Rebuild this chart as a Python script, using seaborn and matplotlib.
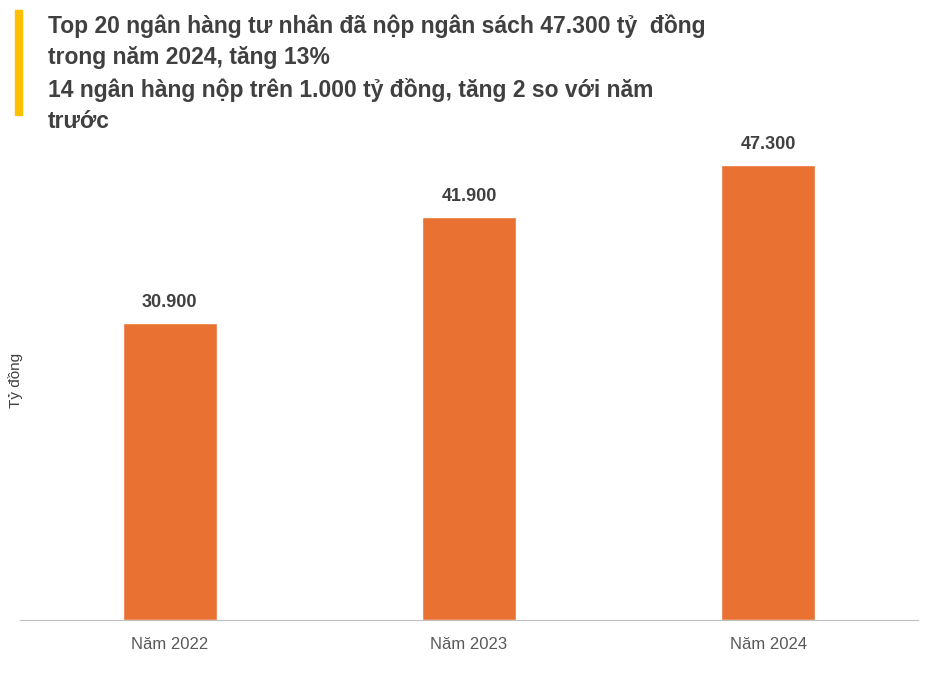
import matplotlib
matplotlib.use("Agg")
import matplotlib.pyplot as plt
import seaborn as sns
import pandas as pd
from matplotlib.patches import Rectangle

years = ["Năm 2022", "Năm 2023", "Năm 2024"]
values = [30900, 41900, 47300]
labels = ["30.900", "41.900", "47.300"]

sns.set_style("white")
plt.rcParams['font.family'] = ['Liberation Sans', 'DejaVu Sans']

df = pd.DataFrame({"year": years, "value": values})

fig = plt.figure(figsize=(9.33, 6.74), dpi=100)
ax = fig.add_axes([20/933, 1 - 620/674, 898/933, 481/674])
sns.barplot(data=df, x="year", y="value", color="#E97132", width=0.315,
            saturation=1, ax=ax)
ax.set_xlim(-0.5, 2.5)
ax.set_ylim(0, 50000)
for i, (v, t) in enumerate(zip(values, labels)):
    ax.text(i, v + 1200, t, ha="center", va="bottom", fontsize=13,
            fontweight="bold", color="#404040")
for s in ["top", "right", "left"]:
    ax.spines[s].set_visible(False)
ax.spines["bottom"].set_color("#BFBFBF")
ax.set_yticks([])
ax.set_xlabel("")
ax.set_ylabel("")
ax.tick_params(axis="x", length=0, labelsize=12, labelcolor="#595959", pad=12)

fig.text(16/933, 1 - 380/674, "Tỷ đồng", rotation=90, fontsize=11,
         color="#404040", ha="center", va="center")

fig.patches.append(Rectangle((15/933, 1 - 115/674), 7/933, 105/674,
                             transform=fig.transFigure, color="#FFC000"))
title = ("Top 20 ngân hàng tư nhân đã nộp ngân sách 47.300 tỷ  đồng\n"
         "trong năm 2024, tăng 13%\n"
         "14 ngân hàng nộp trên 1.000 tỷ đồng, tăng 2 so với năm\n"
         "trước")
fig.text(48/933, 1 - 14/674, title, ha="left", va="top", fontsize=16.5,
         fontweight="bold", color="#404040", linespacing=1.45)

fig.savefig("out.png", dpi=100)
